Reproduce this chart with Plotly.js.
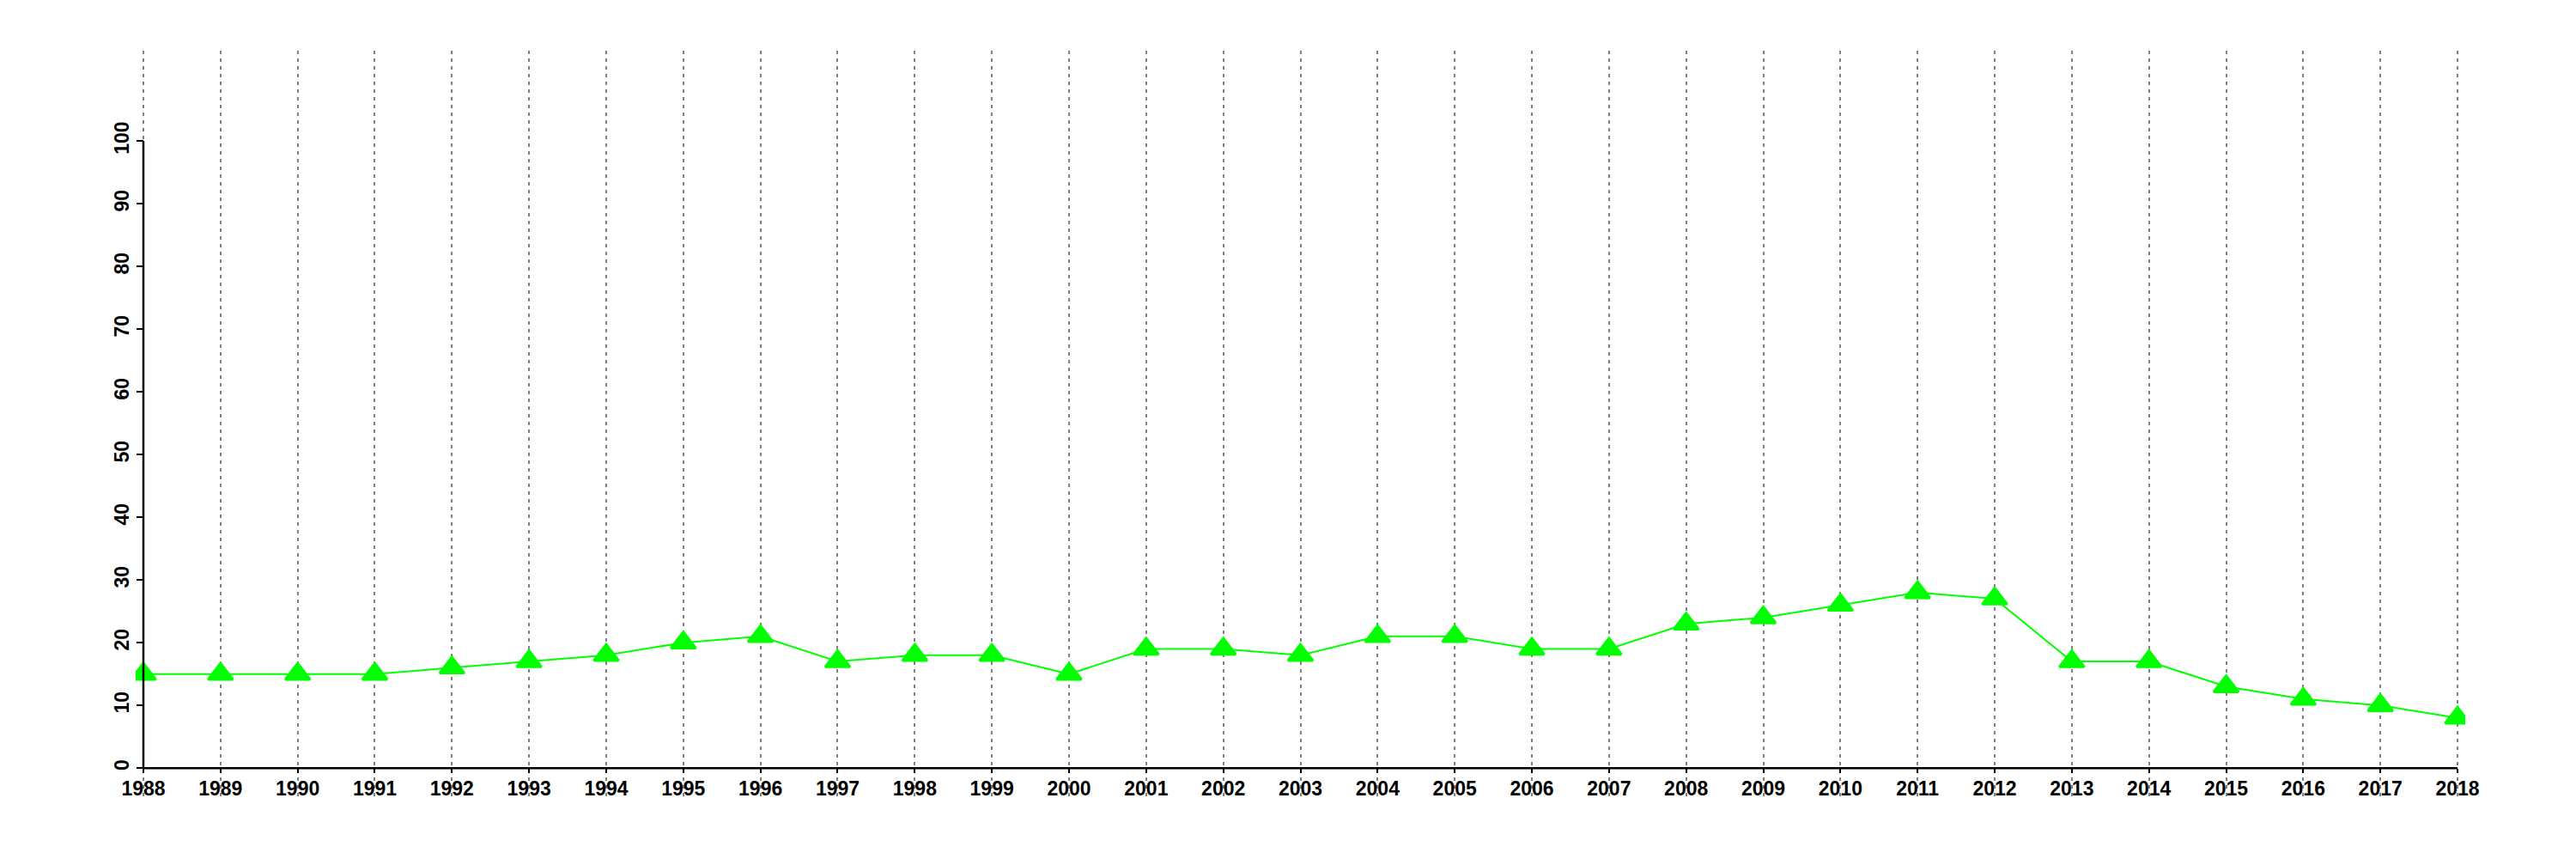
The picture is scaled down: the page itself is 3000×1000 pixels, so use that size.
<!DOCTYPE html>
<html>
<head>
<meta charset="utf-8">
<script src="https://cdn.plot.ly/plotly-3.0.1.min.js"></script>
<style>html,body{margin:0;padding:0;background:#fff;}#chart{width:3000px;height:1000px;}</style>
</head>
<body>
<div id="chart"></div>
<script>
const years = [1988,1989,1990,1991,1992,1993,1994,1995,1996,1997,1998,1999,2000,2001,2002,2003,2004,2005,2006,2007,2008,2009,2010,2011,2012,2013,2014,2015,2016,2017,2018];
const values = [15,15,15,15,16,17,18,20,21,17,18,18,15,19,19,18,21,21,19,19,23,24,26,28,27,17,17,13,11,10,8];
const yTicks = [0,10,20,30,40,50,60,70,80,90,100];

const xMin = years[0], xMax = years[years.length-1];
const yMin = yTicks[0], yMax = yTicks[yTicks.length-1];

const fam = 'Liberation Sans, Arial, Helvetica, sans-serif';
const tickFont = {family: fam, size: 23, color: '#000', weight: 'bold'};

const trace = {
  x: years, y: values, type: 'scatter', mode: 'lines+markers',
  line: {color: '#00ff00', width: 2},
  marker: {symbol: 'triangle-up', size: 25, color: '#00ff00', line: {width: 3, color: '#00ff00'}},
  showlegend: false, hoverinfo: 'x+y'
};

const layout = {
  width: 3000, height: 1000,
  margin: {l: 158, r: 129, t: 59, b: 73, pad: 0},
  paper_bgcolor: '#fff', plot_bgcolor: '#fff',
  font: {family: fam, size: 23, color: '#000'},
  showlegend: false,
  xaxis: {
    range: [xMin - 0.1, xMax + 0.1],
    anchor: 'free', position: 4.5/118.9,
    tickvals: years, ticktext: years.map(String),
    ticks: 'outside', ticklen: 5, tickwidth: 2, tickcolor: '#000',
    ticklabelstandoff: -2,
    tickfont: tickFont,
    showline: false, zeroline: false,
    showgrid: true, gridcolor: '#808080', gridwidth: 2, griddash: '4px,5px',
    tickangle: 0
  },
  yaxis: {
    range: [-4.5, 114.4],
    anchor: 'free', position: 9/2713,
    tickvals: yTicks, ticktext: yTicks.map(String),
    ticks: 'outside', ticklen: 8, tickwidth: 2, tickcolor: '#000',
    tickfont: tickFont,
    tickangle: -90,
    showline: false, zeroline: false, showgrid: false
  },
  shapes: [
    {type: 'line', xref: 'x', yref: 'y', x0: xMin, x1: xMax, y0: yMin, y1: yMin, line: {color: '#000', width: 2.5}},
    {type: 'line', xref: 'x', yref: 'y', x0: xMin, x1: xMin, y0: yMin, y1: yMax, line: {color: '#000', width: 2.5}}
  ]
};

Plotly.newPlot('chart', [trace], layout, {displayModeBar: false, staticPlot: true});
</script>
</body>
</html>
